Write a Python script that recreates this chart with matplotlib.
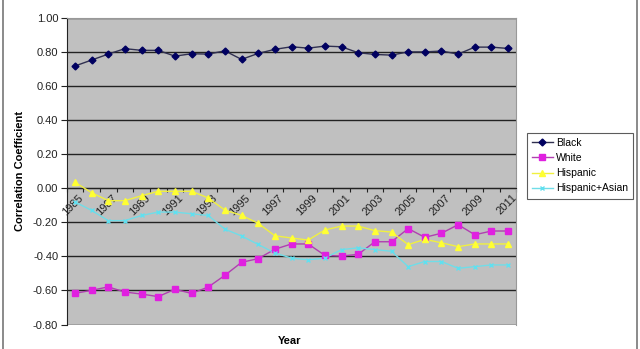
import matplotlib.pyplot as plt
from matplotlib.lines import Line2D

plt.rcParams["font.family"] = ["Liberation Sans", "DejaVu Sans"]

years = list(range(1985, 2012))
black = [0.717, 0.752, 0.787, 0.819, 0.809, 0.809, 0.775, 0.789, 0.787,
         0.806, 0.756, 0.791, 0.815, 0.830, 0.822, 0.834, 0.830, 0.795,
         0.785, 0.781, 0.800, 0.800, 0.805, 0.787, 0.828, 0.828, 0.820]
white = [-0.617, -0.599, -0.579, -0.609, -0.621, -0.636, -0.593, -0.617, -0.580,
         -0.511, -0.435, -0.413, -0.358, -0.327, -0.327, -0.394, -0.398, -0.388,
         -0.314, -0.314, -0.237, -0.288, -0.264, -0.214, -0.273, -0.251, -0.251]
hispanic = [0.035, -0.026, -0.073, -0.073, -0.044, -0.018, -0.018, -0.018, -0.057,
            -0.128, -0.159, -0.206, -0.279, -0.292, -0.304, -0.245, -0.222, -0.222,
            -0.249, -0.257, -0.331, -0.300, -0.320, -0.343, -0.327, -0.327, -0.327]
hisp_asian = [-0.08, -0.13, -0.19, -0.19, -0.16, -0.14, -0.14, -0.15, -0.16,
              -0.24, -0.28, -0.33, -0.38, -0.41, -0.42, -0.41, -0.36, -0.35,
              -0.36, -0.37, -0.46, -0.43, -0.43, -0.47, -0.46, -0.45, -0.45]
yticks = [-0.8, -0.6, -0.4, -0.2, 0.0, 0.2, 0.4, 0.6, 0.8, 1.0]

fig = plt.figure(figsize=(6.4, 3.49), dpi=100)
ax = fig.add_axes([0.104, 0.070, 0.703, 0.879])
ax.set_facecolor("#C0C0C0")

x = list(range(len(years)))

series = [
    ("Black", black, "#000060", "#303050", "D", 3.5),
    ("White", white, "#E020E0", "#B040B0", "s", 5),
    ("Hispanic", hispanic, "#FFFF33", "#F0F040", "^", 5),
    ("Hispanic+Asian", hisp_asian, "#60E0F0", "#70DDE8", "x", 3),
]
handles = []
for name, vals, mcol, lcol, mk, ms in series:
    ax.plot(x, vals, color=lcol, lw=1.0, zorder=3)
    ax.plot(x, vals, ls="none", marker=mk, ms=ms, color=mcol,
            markeredgecolor=mcol, zorder=4)
    handles.append(Line2D([], [], color=lcol, lw=1.0, marker=mk, ms=ms,
                          markerfacecolor=mcol, markeredgecolor=mcol))

ax.set_xlim(-0.5, len(years) - 0.5)
ax.set_ylim(-0.8, 1.0)
ax.set_yticks(yticks)
ax.set_yticklabels([f"{v:.2f}" for v in yticks], fontsize=8)
ax.yaxis.grid(True, color="#222222", lw=1.0)
ax.set_axisbelow(True)
ax.tick_params(axis="y", length=4, width=0.8, pad=2, colors="#222222")

# category axis sits on the zero line, ticks between categories
ax.spines["bottom"].set_position(("data", 0))
ax.spines["bottom"].set_color("#222222")
ax.spines["left"].set_color("#222222")
ax.spines["top"].set_color("#999999")
ax.spines["right"].set_color("#999999")
ax.set_xticks([i + 0.5 for i in range(-1, len(years))])
ax.set_xticklabels([])
ax.tick_params(axis="x", length=3, width=0.8, colors="#222222")
for i, yr in enumerate(years):
    if i % 2 == 0:
        ax.text(i + 0.2, -0.025, str(yr), rotation=45, ha="right", va="top",
                rotation_mode="anchor", fontsize=8, color="#222222", zorder=2)

ax.set_ylabel("Correlation Coefficient", fontsize=8, fontweight="bold", labelpad=6)
fig.text(0.453, 0.022, "Year", ha="center", va="center", fontsize=8,
         fontweight="bold")

leg = fig.legend(handles, [s[0] for s in series], loc="upper left",
                 bbox_to_anchor=(0.823, 0.62), fontsize=7.5, frameon=True,
                 fancybox=False, handlelength=2.0, handletextpad=0.3,
                 borderpad=0.5, borderaxespad=0, labelspacing=0.5)
leg.get_frame().set_edgecolor("#333333")
leg.get_frame().set_linewidth(0.8)

# outer chart border
fig.add_artist(Line2D([0.004, 0.004], [0, 1], color="#777777", lw=1.2))
fig.add_artist(Line2D([0.995, 0.995], [0, 1], color="#777777", lw=1.2))

fig.savefig("out.png", dpi=100)
